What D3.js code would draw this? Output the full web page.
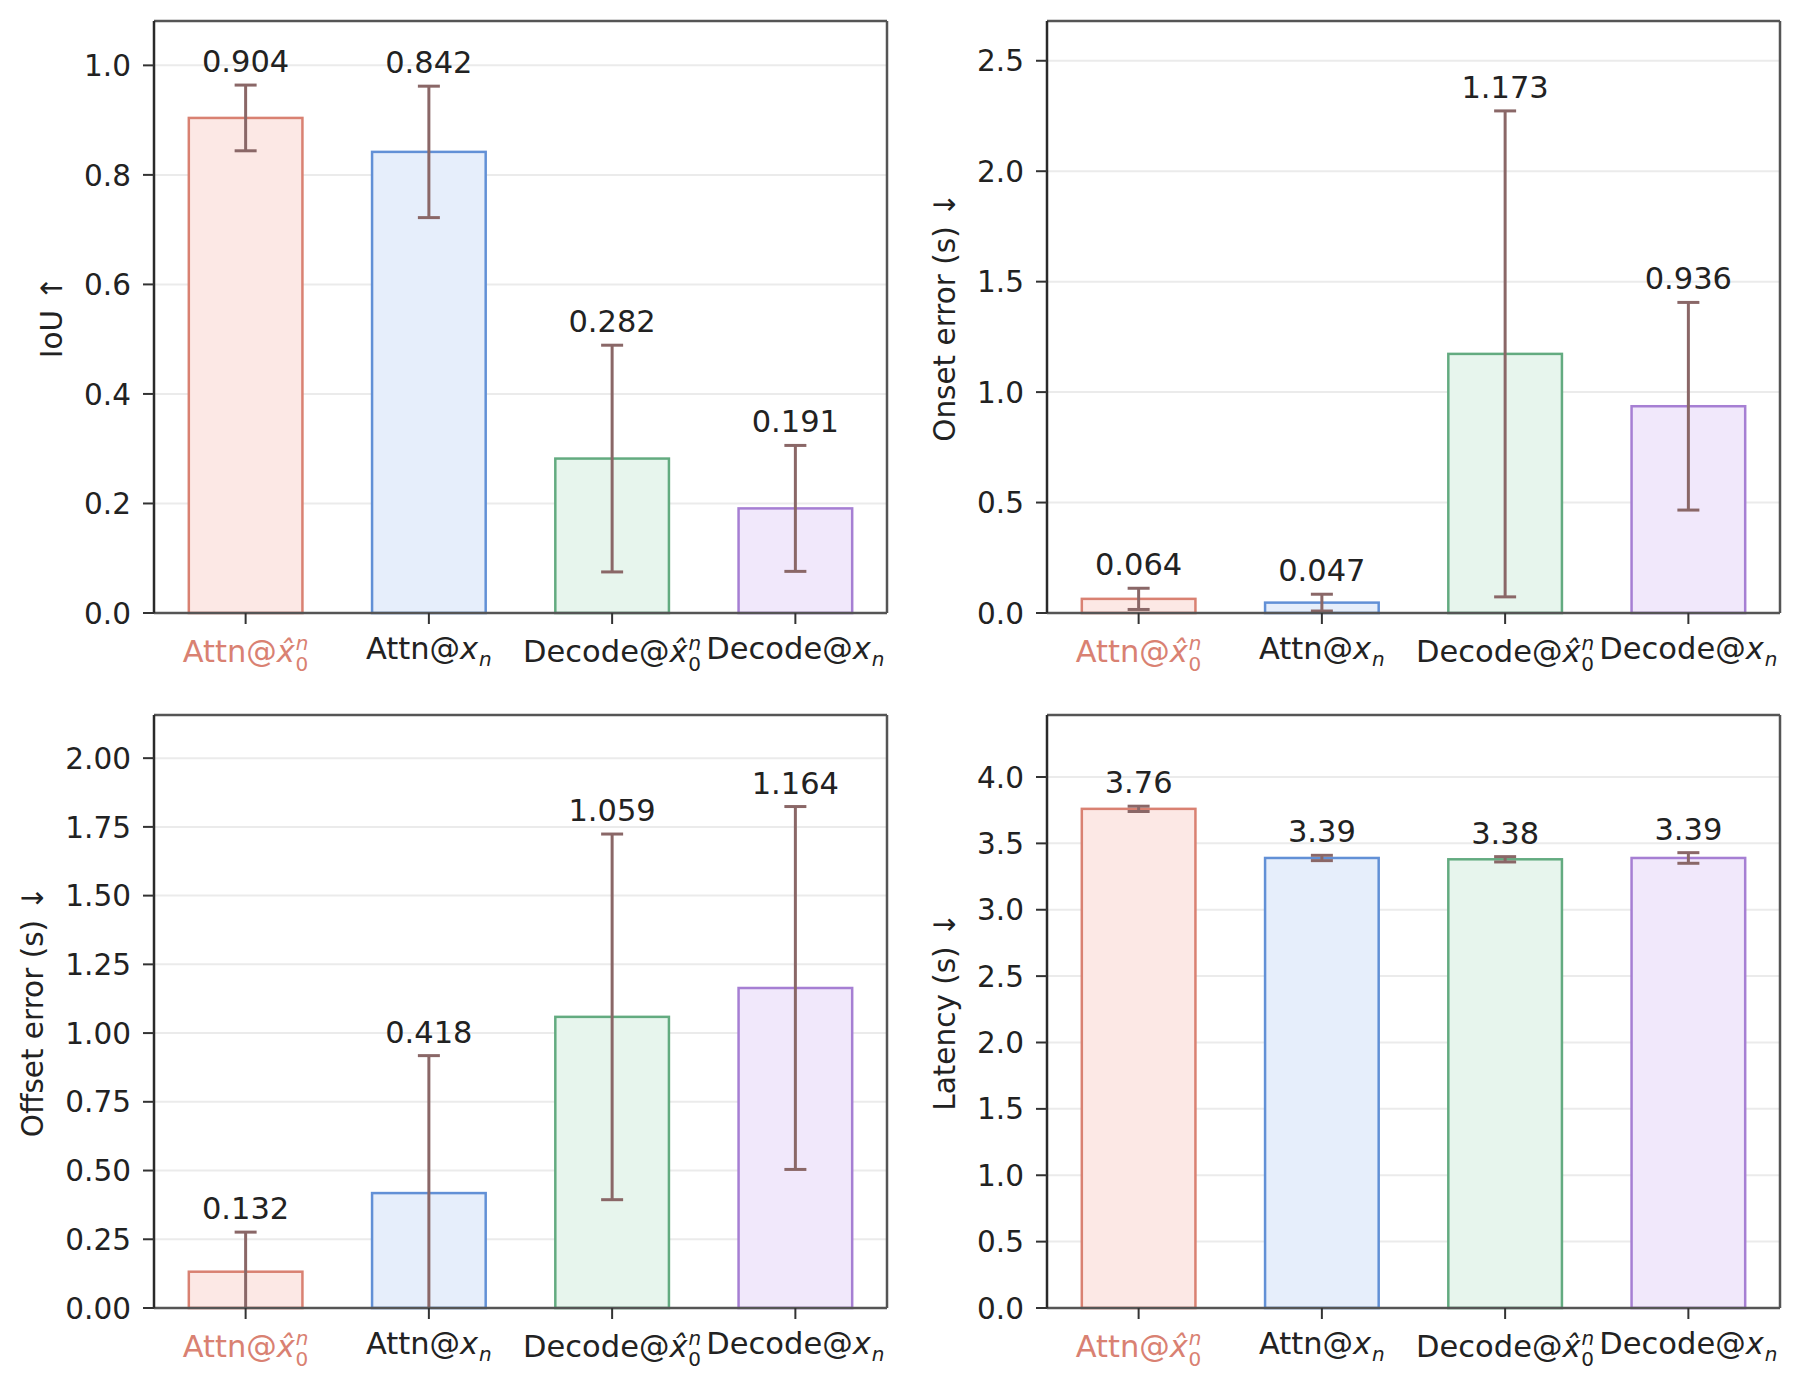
<!DOCTYPE html>
<html>
<head>
<meta charset="utf-8">
<script src="https://cdn.jsdelivr.net/npm/d3@7"></script>
<style>
  body { margin: 0; background: #fff; }
  svg { display: block; }
  text { font-family: "DejaVu Sans", sans-serif; fill: #222; }
</style>
</head>
<body>
<div id="chart"></div>
<script>
// categories: prefix + which math suffix the label carries
const methodPrefix = ["Attn", "Attn", "Decode", "Decode"];
const methodTarget = ["hat", "sub", "hat", "sub"]; // hat -> \hat{x}_0^n , sub -> x_n

// IoU (higher is better)
const iouMean = [0.904, 0.842, 0.282, 0.191];
const iouErr  = [0.060, 0.120, 0.207, 0.115];
const iouTicks = [0.0, 0.2, 0.4, 0.6, 0.8, 1.0];

// onset error in seconds
const onsetMean = [0.064, 0.047, 1.173, 0.936];
const onsetErr  = [0.048, 0.038, 1.100, 0.470];
const onsetTicks = [0.0, 0.5, 1.0, 1.5, 2.0, 2.5];

// offset error in seconds
const offsetMean = [0.132, 0.418, 1.059, 1.164];
const offsetErr  = [0.144, 0.500, 0.665, 0.660];
const offsetTicks = [0.00, 0.25, 0.50, 0.75, 1.00, 1.25, 1.50, 1.75, 2.00];

// latency in seconds
const latencyMean = [3.76, 3.39, 3.38, 3.39];
const latencyErr  = [0.02, 0.02, 0.02, 0.04];
const latencyTicks = [0.0, 0.5, 1.0, 1.5, 2.0, 2.5, 3.0, 3.5, 4.0];

const strokeColors = ["#d98172", "#6290d6", "#63ab80", "#a67fd3"];
const fillColors   = ["#fce8e5", "#e6eefb", "#e7f5ed", "#f1e8fb"];
const errColor = "#8a6767";

const width = 1800, height = 1390;

const svg = d3.select("#chart").append("svg")
    .attr("width", width)
    .attr("height", height);

const panels = [
    {mean: iouMean, err: iouErr, ticks: iouTicks, yMax: 1.081, tickFmt: ".1f", valFmt: ".3f",
     label: "IoU ↑", left: 154, top: 21, w: 733, h: 592},
    {mean: onsetMean, err: onsetErr, ticks: onsetTicks, yMax: 2.68, tickFmt: ".1f", valFmt: ".3f",
     label: "Onset error (s) ↓", left: 1047, top: 21, w: 733, h: 592},
    {mean: offsetMean, err: offsetErr, ticks: offsetTicks, yMax: 2.157, tickFmt: ".2f", valFmt: ".3f",
     label: "Offset error (s) ↓", left: 154, top: 715, w: 733, h: 593},
    {mean: latencyMean, err: latencyErr, ticks: latencyTicks, yMax: 4.467, tickFmt: ".1f", valFmt: ".2f",
     label: "Latency (s) ↓", left: 1047, top: 715, w: 733, h: 593}
];

panels.forEach((p, pi) => drawPanel(p, pi));

function drawPanel(p, pi) {
    let g = svg.append("g").attr("class", "panel");

    let x = d3.scaleLinear().domain([-0.5, 3.5]).range([p.left, p.left + p.w]);
    let y = d3.scaleLinear().domain([0, p.yMax]).range([p.top + p.h, p.top]);
    let barW = 0.62;

    // clip for error bars that run below zero
    let clipId = "clip" + pi;
    g.append("clipPath").attr("id", clipId)
        .append("rect")
        .attr("x", p.left).attr("y", p.top)
        .attr("width", p.w).attr("height", p.h);

    // grid
    g.append("g").selectAll("line")
        .data(p.ticks)
        .enter().append("line")
        .attr("x1", p.left).attr("x2", p.left + p.w)
        .attr("y1", d => y(d)).attr("y2", d => y(d))
        .attr("stroke", "#ebebeb")
        .attr("stroke-width", 2);

    let data = p.mean.map((m, i) => ({i: i, m: m, e: p.err[i]}));

    // bars
    g.append("g").selectAll("rect")
        .data(data)
        .enter().append("rect")
        .attr("x", d => x(d.i - barW / 2))
        .attr("y", d => y(d.m))
        .attr("width", x(barW) - x(0))
        .attr("height", d => y(0) - y(d.m))
        .attr("fill", d => fillColors[d.i])
        .attr("stroke", d => strokeColors[d.i])
        .attr("stroke-width", 2.5);

    // error bars
    let eb = g.append("g").attr("clip-path", `url(#${clipId})`)
        .selectAll("g")
        .data(data)
        .enter().append("g")
        .attr("stroke", errColor)
        .attr("stroke-width", 3);

    eb.append("line")
        .attr("x1", d => x(d.i)).attr("x2", d => x(d.i))
        .attr("y1", d => y(d.m - d.e)).attr("y2", d => y(d.m + d.e));
    eb.append("line")
        .attr("x1", d => x(d.i) - 11).attr("x2", d => x(d.i) + 11)
        .attr("y1", d => y(d.m + d.e)).attr("y2", d => y(d.m + d.e));
    eb.append("line")
        .attr("x1", d => x(d.i) - 11).attr("x2", d => x(d.i) + 11)
        .attr("y1", d => y(d.m - d.e)).attr("y2", d => y(d.m - d.e));

    // value labels
    g.append("g").selectAll("text")
        .data(data)
        .enter().append("text")
        .attr("x", d => x(d.i))
        .attr("y", d => y(d.m + d.e) - 13)
        .attr("text-anchor", "middle")
        .style("font-size", "30.5px")
        .text(d => d3.format(p.valFmt)(d.m));

    // spines
    g.append("line")
        .attr("x1", p.left).attr("x2", p.left + p.w)
        .attr("y1", p.top).attr("y2", p.top)
        .attr("stroke", "#555").attr("stroke-width", 2.5);
    g.append("line")
        .attr("x1", p.left + p.w).attr("x2", p.left + p.w)
        .attr("y1", p.top).attr("y2", p.top + p.h)
        .attr("stroke", "#555").attr("stroke-width", 2.5);
    g.append("line")
        .attr("x1", p.left).attr("x2", p.left + p.w)
        .attr("y1", p.top + p.h).attr("y2", p.top + p.h)
        .attr("stroke", "#555").attr("stroke-width", 2.5);
    g.append("line")
        .attr("x1", p.left).attr("x2", p.left)
        .attr("y1", p.top).attr("y2", p.top + p.h)
        .attr("stroke", "#2a2a2a").attr("stroke-width", 2.5);

    // y ticks + labels
    let yt = g.append("g").selectAll("g")
        .data(p.ticks)
        .enter().append("g");
    yt.append("line")
        .attr("x1", p.left - 11).attr("x2", p.left)
        .attr("y1", d => y(d)).attr("y2", d => y(d))
        .attr("stroke", "#333").attr("stroke-width", 2);
    let tickLabels = yt.append("text")
        .attr("x", p.left - 23)
        .attr("y", d => y(d))
        .attr("dy", "0.36em")
        .attr("text-anchor", "end")
        .style("font-size", "29.5px")
        .text(d => d3.format(p.tickFmt)(d));

    let minX = d3.min(tickLabels.nodes(), n => n.getBBox().x);

    // y axis label
    let cy = p.top + p.h / 2;
    g.append("text")
        .attr("transform", `translate(${minX - 22}, ${cy}) rotate(-90)`)
        .attr("text-anchor", "middle")
        .style("font-size", "29.5px")
        .text(p.label);

    // x ticks + labels
    data.forEach(d => {
        g.append("line")
            .attr("x1", x(d.i)).attr("x2", x(d.i))
            .attr("y1", y(0)).attr("y2", y(0) + 11)
            .attr("stroke", "#333").attr("stroke-width", 2);

        let col = d.i === 0 ? strokeColors[0] : "#222";
        let isHat = methodTarget[d.i] === "hat";
        let lg = g.append("g");
        let t = lg.append("text")
            .style("font-size", "30.5px")
            .style("fill", col);
        t.append("tspan").text(methodPrefix[d.i] + "@");
        t.append("tspan").style("font-style", "italic").text(isHat ? "x\u0302" : "x");
        if (isHat) {
            t.append("tspan").attr("dy", -12).attr("dx", 1)
                .style("font-size", "20px").style("font-style", "italic").text("n");
            t.append("tspan").attr("dy", 21).attr("dx", -13)
                .style("font-size", "20px").text("0");
        } else {
            t.append("tspan").attr("dy", 7).attr("dx", 1)
                .style("font-size", "20px").style("font-style", "italic").text("n");
        }
        let bb = lg.node().getBBox();
        let base = y(0) + (isHat ? 49 : 46);
        lg.attr("transform", `translate(${x(d.i) - bb.width / 2 - bb.x}, ${base})`);
    });
}
</script>
</body>
</html>
